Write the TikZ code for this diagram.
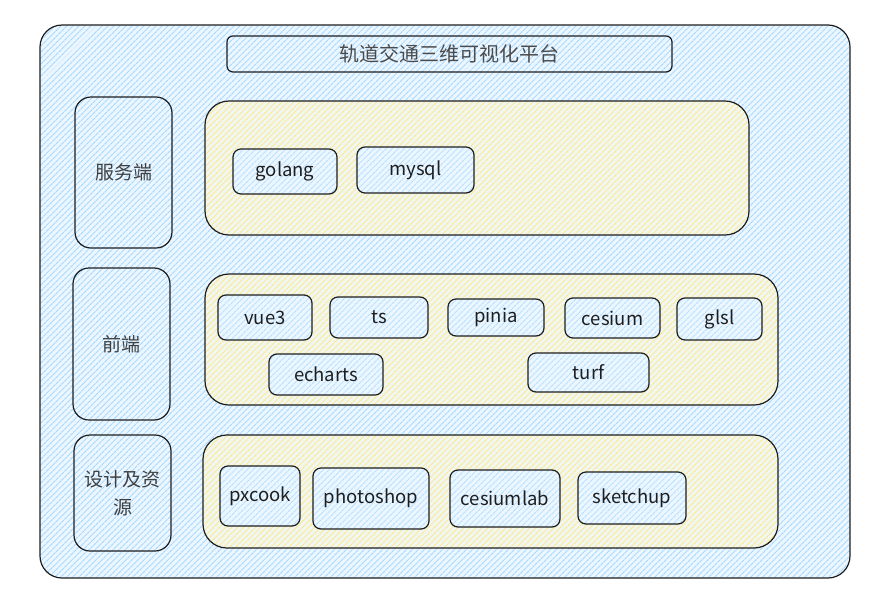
\documentclass[tikz,border=0pt]{standalone}
\usepackage{fontspec}
\setmainfont{Noto Sans CJK SC}
\usepackage{tikz}
\usetikzlibrary{patterns.meta}
\definecolor{ink}{RGB}{30,30,30}
\definecolor{skyline}{RGB}{165,216,255}
\definecolor{skyfill}{RGB}{236,246,255}
\definecolor{sandline}{RGB}{255,232,140}
\definecolor{sandfill}{RGB}{240,246,240}
\tikzset{
  hatch/.style 2 args={preaction={fill=#2},
    pattern={Lines[angle=45, distance=4pt, line width=1.2pt]}, pattern color=#1},
  frame/.style={draw=ink, line width=1.2pt, rounded corners=22pt, hatch={skyline}{skyfill}},
  titlebox/.style={draw=ink, line width=1.2pt, rounded corners=6pt, hatch={skyline}{skyfill},
    font=\fontsize{20}{24}\selectfont, text=ink!80},
  sidebox/.style={draw=ink, line width=1.2pt, rounded corners=16pt, hatch={skyline}{skyfill},
    minimum width=97pt, align=center, font=\fontsize{19}{28}\selectfont, text=ink!85},
  panel/.style={draw=ink, line width=1.2pt, rounded corners=24pt, hatch={sandline}{sandfill}},
  tag/.style={draw=ink, line width=1.2pt, rounded corners=8pt, hatch={skyline!80}{skyfill},
    font=\fontsize{18.5}{22}\selectfont, text=ink}
}
\begin{document}
\begin{tikzpicture}[x=1pt, y=-1pt]
  \useasboundingbox (0,0) rectangle (881,592);
  % outer frame and title
  \node[frame, minimum width=810pt, minimum height=553pt] (outer) at (445,301.5) {};
  \node[titlebox, minimum width=445pt, minimum height=36pt] (title) at (449.5,54) {轨道交通三维可视化平台};
  % left column
  \node[sidebox, minimum height=151pt] (server) at (123.5,172.5) {服务端};
  \node[sidebox, minimum height=152pt] (front) at (121.5,344) {前端};
  \node[sidebox, minimum height=116pt] (design) at (122.5,493) {设计及资\\源};
  % panels
  \node[panel, minimum width=544pt, minimum height=134pt] (srvpanel) at (477,168) {};
  \node[panel, minimum width=573pt, minimum height=131pt] (frontpanel) at (491.5,339.5) {};
  \node[panel, minimum width=575pt, minimum height=113pt] (designpanel) at (490.5,491.5) {};
  % server tags
  \node[tag, minimum width=104pt, minimum height=45pt] (golang) at (285,171.5) {golang};
  \node[tag, minimum width=117pt, minimum height=46pt] (mysql) at (415.5,170) {mysql};
  % front tags
  \node[tag, minimum width=94pt, minimum height=45pt] (vue) at (265,317.5) {vue3};
  \node[tag, minimum width=98pt, minimum height=41pt] (ts) at (379,317.5) {ts};
  \node[tag, minimum width=96pt, minimum height=37pt] (pinia) at (496,317.5) {pinia};
  \node[tag, minimum width=95pt, minimum height=40pt] (cesium) at (612.5,318) {cesium};
  \node[tag, minimum width=85pt, minimum height=42pt] (glsl) at (719.5,319) {glsl};
  \node[tag, minimum width=114pt, minimum height=41pt] (echarts) at (326,374.5) {echarts};
  \node[tag, minimum width=121pt, minimum height=39pt] (turf) at (588.5,372.5) {turf};
  % design tags
  \node[tag, minimum width=80pt, minimum height=60pt] (pxcook) at (260,496) {pxcook};
  \node[tag, minimum width=116pt, minimum height=61pt] (photoshop) at (371,498.5) {photoshop};
  \node[tag, minimum width=110pt, minimum height=57pt] (cesiumlab) at (505,498.5) {cesiumlab};
  \node[tag, minimum width=108pt, minimum height=52pt] (sketchup) at (632,498) {sketchup};
\end{tikzpicture}
\end{document}
